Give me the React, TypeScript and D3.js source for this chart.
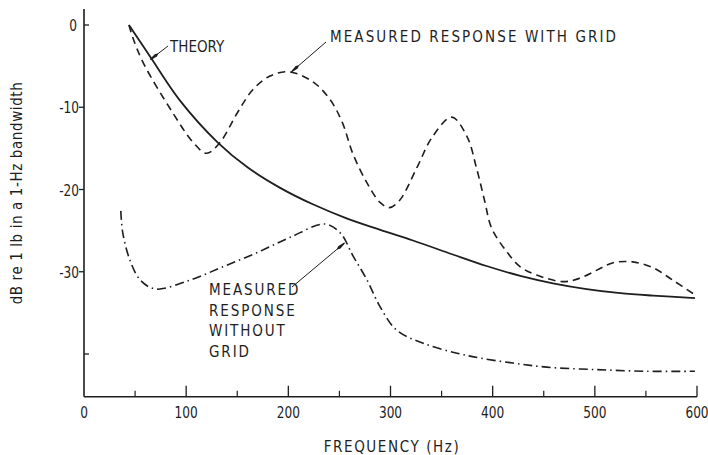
import React from 'react';
import * as d3 from 'd3';

// frequency (Hz) / level (dB)
const theoryFreq = [44, 65, 94, 131, 160, 192, 224, 257, 290, 322, 361, 394, 427, 459, 492, 525, 557, 598];
const theoryDb = [0, -3.9, -9.2, -14.3, -17.3, -19.8, -21.8, -23.5, -24.9, -26.2, -27.9, -29.3, -30.5, -31.4, -32.1, -32.6, -32.9, -33.2];

const withGridFreq = [44, 48, 58, 87, 107, 120, 133, 150, 165, 182, 201, 224, 241, 253, 263, 277, 290, 299, 309, 326, 341, 360, 375, 384, 392, 399, 414, 427, 443, 469, 485, 502, 518, 537, 557, 576, 598];
const withGridDb = [0, -1.6, -4.6, -10.7, -14.3, -15.6, -14.3, -10.7, -7.9, -6.2, -5.7, -6.9, -9.1, -11.9, -15.6, -19.2, -21.6, -22.2, -21.3, -17.3, -13.6, -11.2, -13.6, -17.3, -21.3, -24.7, -27.6, -29.4, -30.4, -31.2, -30.8, -29.8, -28.9, -28.8, -29.5, -31.0, -32.8];

const noGridFreq = [36, 38, 45, 55, 70, 104, 136, 169, 202, 236, 251, 263, 277, 290, 306, 332, 365, 388, 420, 453, 502, 551, 598];
const noGridDb = [-22.6, -25.3, -28.6, -31.0, -32.1, -31.0, -29.4, -27.7, -25.8, -24.2, -25.3, -28.0, -31.0, -34.3, -37.1, -38.7, -39.9, -40.5, -41.1, -41.6, -41.9, -42.1, -42.1];

const xMajor = [0, 100, 200, 300, 400, 500, 600];
const xMinor = [50, 150, 250, 350, 450, 550];
const yLabelled = [0, -10, -20, -30];
const yUnlabelled = [-40];

const W = 708;
const H = 455;
const FONT = '"Liberation Sans Narrow", "DejaVu Sans Condensed", sans-serif';
const INK = '#1e1e1e';

export default function App() {
  const x = d3.scaleLinear().domain([0, 600]).range([84, 697]);
  const y = d3.scaleLinear().domain([0, -40]).range([25, 354]);
  const yTop = y(1.95);
  const yBottom = y(-45.2);

  const line = (fs: number[], ds: number[]) =>
    d3.line<number>()
      .x((f) => x(f))
      .y((_, i) => y(ds[i]))
      .curve(d3.curveCatmullRom.alpha(0.5))(fs) || '';

  return (
    <svg width={W} height={H} style={{ position: 'absolute', left: 0, top: 0, background: '#fff' }}>
      <defs>
        <marker id="blob" viewBox="0 0 10 4" refX="10" refY="2" markerWidth="10" markerHeight="4" orient="auto" markerUnits="userSpaceOnUse">
          <path d="M0,2 L3,0.4 L10,1.4 L10,2.6 L3,3.6 Z" fill={INK} />
        </marker>
      </defs>

      {/* axes */}
      <line x1={84} x2={84} y1={yTop} y2={yBottom} stroke={INK} strokeWidth={1.6} />
      <line x1={84} x2={x(600)} y1={yBottom} y2={yBottom} stroke={INK} strokeWidth={1.6} />
      {xMajor.slice(1).map((t) => (
        <line key={'M' + t} x1={x(t)} x2={x(t)} y1={yBottom} y2={yBottom - 11} stroke={INK} strokeWidth={1.3} />
      ))}
      {xMinor.map((t) => (
        <line key={'m' + t} x1={x(t)} x2={x(t)} y1={yBottom} y2={yBottom - 6} stroke={INK} strokeWidth={1.2} />
      ))}
      {xMajor.map((t) => (
        <text key={'l' + t} transform={`translate(${x(t)},418) scale(0.82,1)`} textAnchor="middle" fontFamily={FONT} fontSize={16.5} fill={INK}>{t}</text>
      ))}
      {yLabelled.map((t) => (
        <g key={'y' + t}>
          <line x1={t === 0 ? 84 : 79} x2={t === 0 ? 89 : 84} y1={y(t)} y2={y(t)} stroke={INK} strokeWidth={1.3} />
          <text transform={`translate(${t === 0 ? 77 : 79},${y(t) + 6}) scale(0.82,1)`} textAnchor="end" fontFamily={FONT} fontSize={16.5} fill={INK}>{t}</text>
        </g>
      ))}
      {yUnlabelled.map((t) => (
        <line key={'u' + t} x1={84} x2={89} y1={y(t)} y2={y(t)} stroke={INK} strokeWidth={1.3} />
      ))}

      {/* axis titles */}
      <text x={392} y={452} textAnchor="middle" fontFamily={FONT} fontSize={15} letterSpacing={1.6} fill={INK}>FREQUENCY (Hz)</text>
      <text transform="translate(22,193) rotate(-90)" textAnchor="middle" fontFamily={FONT} fontSize={15} letterSpacing={0.6} fill={INK}>dB re  1 lb in a 1-Hz bandwidth</text>

      {/* curves */}
      <path d={line(theoryFreq, theoryDb)} fill="none" stroke={INK} strokeWidth={1.8} />
      <path d={line(withGridFreq, withGridDb)} fill="none" stroke={INK} strokeWidth={1.6} strokeDasharray="7.5 5" />
      <path d={line(noGridFreq, noGridDb)} fill="none" stroke={INK} strokeWidth={1.6} strokeDasharray="9 4 1.5 4" />

      {/* annotations */}
      <text x={170} y={52} fontFamily={FONT} fontSize={15} fill={INK}>THEORY</text>
      <line x1={168} y1={46} x2={x(65)} y2={y(-4.2)} stroke={INK} strokeWidth={1} markerEnd="url(#blob)" />

      <text x={330} y={42} fontFamily={FONT} fontSize={15} letterSpacing={2.1} fill={INK}>MEASURED RESPONSE WITH GRID</text>
      <line x1={326} y1={42} x2={x(203)} y2={y(-5.7)} stroke={INK} strokeWidth={1} markerEnd="url(#blob)" />

      {['MEASURED', 'RESPONSE', 'WITHOUT', 'GRID'].map((s, i) => (
        <text key={s} x={209} y={295 + i * 20.7} fontFamily={FONT} fontSize={15} letterSpacing={1.9} fill={INK}>{s}</text>
      ))}
      <line x1={292} y1={287} x2={x(255)} y2={y(-26.5)} stroke={INK} strokeWidth={1} markerEnd="url(#blob)" />
    </svg>
  );
}
